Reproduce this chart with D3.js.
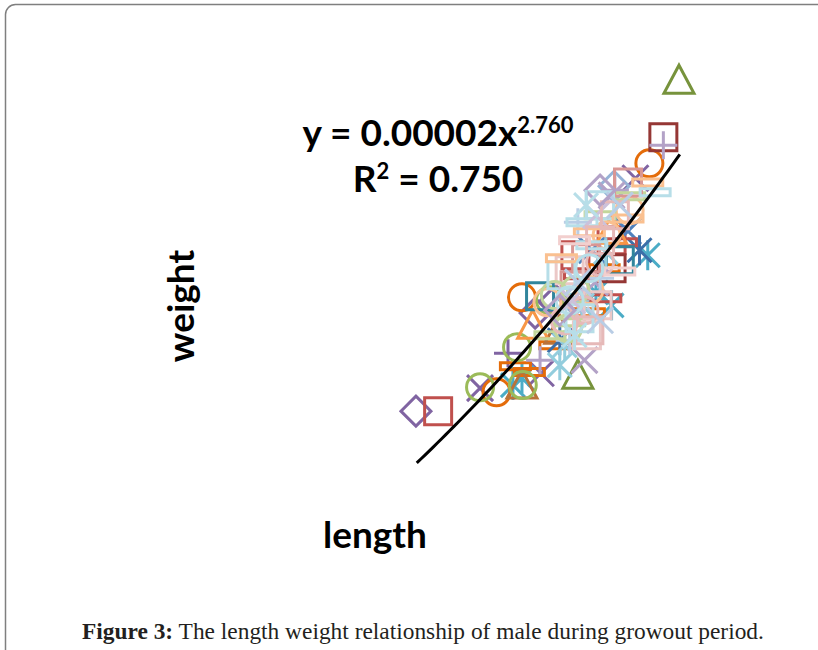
<!DOCTYPE html>
<html lang="en">
<head>
<meta charset="UTF-8">
<title>Length weight relationship</title>
<script src="https://d3js.org/d3.v7.min.js"></script>
<style>
  html, body { margin: 0; padding: 0; background: #fff; }
  svg { display: block; }
  .label { font-family: Lato, "Open Sans", sans-serif; font-weight: bold; font-size: 37px; fill: #000; }
  .equation { font-family: Lato, "Open Sans", sans-serif; font-weight: bold; font-size: 37px; fill: #000; }
  .caption { font-family: "Liberation Serif", serif; font-size: 23.4px; fill: #231f20; }
</style>
</head>
<body>
<script>
'use strict'

// power fit shown on the chart
const fitA = 0.00002
const fitB = 2.760
const fitR2 = '0.750'
const fitLengths = [128, 160]

// sample groups, [length, weight]
const s01 = [[127.9, 14.96], [142.4, 18.50], [144.9, 18.96]]
const s02 = [[130.6, 14.96], [147.3, 20.59], [151.7, 21.13]]
const s03 = [[159.9, 26.91], [147.6, 16.26]]
const s04 = [[135.7, 15.79], [143.1, 16.33], [154.6, 23.37]]
const s05 = [[139.7, 15.90], [140.8, 16.15], [151.7, 18.78], [156.1, 20.59], [149.8, 19.25]]
const s06 = [[156.3, 23.91], [140.8, 19.07], [137.7, 15.64]]
const s07 = [[139.1, 17.05], [148.1, 18.96]]
const s08 = [[140.0, 16.58], [141.7, 16.37], [149.0, 18.53], [150.8, 20.12], [144.8, 17.34]]
const s09 = [[152.0, 23.08], [147.2, 18.96]]
const s10 = [[158.0, 24.85], [151.7, 20.12]]
const s11 = [[140.8, 15.90], [145.4, 17.88]]
const s12 = [[153.7, 21.46], [149.3, 20.77]]
const s13 = [[155.1, 20.77], [145.4, 17.52]]
const s14 = [[135.7, 15.82], [140.9, 15.90], [140.2, 17.27], [144.2, 18.96]]
const s15 = [[158.0, 24.56], [152.1, 22.94], [143.0, 16.80]]
const s16 = [[151.0, 19.04], [152.9, 21.06], [147.8, 19.87]]
const s17 = [[142.1, 18.06], [151.7, 21.49]]
const s18 = [[143.0, 19.11], [152.7, 20.41]]
const s19 = [[151.7, 22.75], [148.4, 16.80], [149.7, 19.61]]
const s20 = [[145.4, 16.62], [148.1, 18.78], [151.0, 20.70], [146.0, 17.34]]
const s21 = [[151.1, 21.31], [143.9, 18.89], [149.0, 19.33], [153.9, 22.21]]
const s22 = [[150.3, 19.76], [147.6, 21.78], [146.6, 17.52]]
const s23 = [[150.3, 22.03], [153.9, 22.72], [146.6, 18.17], [144.2, 17.70]]
const s24 = [[153.7, 23.22], [148.6, 20.48], [147.2, 19.51]]
const s25 = [[148.7, 17.70], [146.6, 20.05], [150.0, 18.78]]
const s26 = [[144.8, 19.15], [146.4, 17.95], [147.3, 19.33]]
const s27 = [[146.0, 18.24], [150.3, 20.34], [148.4, 18.60]]
const s28 = [[147.8, 18.31], [150.3, 22.39], [145.6, 19.87]]
const s29 = [[153.7, 21.92], [156.1, 23.22], [145.6, 20.48], [149.0, 21.42]]
const s30 = [[157.0, 22.86], [148.1, 21.78], [149.3, 20.95]]
const s31 = [[149.8, 22.03], [146.9, 18.96]]
const s32 = [[150.3, 21.13], [152.1, 22.03], [149.0, 17.88]]
const s33 = [[147.6, 19.61], [152.7, 22.39], [150.3, 18.24]]
const s34 = [[147.2, 21.13], [152.7, 20.00]]
const s35 = [[149.0, 20.12], [146.6, 18.96]]
const s36 = [[150.3, 22.94], [145.4, 18.60]]
const s37 = [[147.2, 17.70], [148.6, 22.40]]

const groups = [s01, s02, s03, s04, s05, s06, s07, s08, s09, s10, s11, s12, s13, s14, s15, s16,
                s17, s18, s19, s20, s21, s22, s23, s24, s25, s26, s27, s28, s29, s30, s31,
                s32, s33, s34, s35, s36, s37]

// marker style per group
const groupShapes = ['diamond', 'square', 'triangle', 'x', 'star', 'circle', 'plus', 'dash',
                     'diamond', 'square', 'triangle', 'x', 'star', 'circle', 'plus', 'dash',
                     'triangle', 'square', 'x', 'star', 'circle', 'plus', 'dash', 'square',
                     'square', 'circle', 'circle', 'square', 'dash', 'dash', 'x',
                     'square', 'x', 'dash', 'circle', 'diamond', 'star']
const groupColors = ['#8064A2', '#C0504D', '#77933C', '#8064A2', '#4BACC6', '#E46C0A', '#8064A2', '#E46C0A',
                     '#95B3D7', '#953735', '#B9733A', '#4F81BD', '#3C6EA8', '#9BBB59', '#B3A2C7', '#C0504D',
                     '#F79646', '#31859C', '#B3A2C7', '#93CDDD', '#FAC090', '#B9CDE5', '#C3D69B', '#D99694',
                     '#EBC8C7', '#C3D69B', '#E6B9B8', '#B7DEE8', '#FAC090', '#B7DEE8', '#CCC1DA',
                     '#E6B9B8', '#B9CDE5', '#F2CFCE', '#B7DEE8', '#B3A2C7', '#B7DEE8']

const W = 818, H = 650
const margin = {top: 50, left: 351}
const w = 411, h = 498.5

const svg = d3.select('body').append('svg')
    .attr('width', W)
    .attr('height', H)

// frame
svg.append('rect')
    .attr('x', 5.5)
    .attr('y', 4.5)
    .attr('width', 840)
    .attr('height', 700)
    .attr('rx', 10)
    .attr('fill', 'none')
    .attr('stroke', '#7f7f7f')
    .attr('stroke-width', 1.5)

const x = d3.scaleLinear().domain([120, 170]).range([margin.left, margin.left + w])
const y = d3.scaleLinear().domain([10, 28]).range([margin.top + h, margin.top])

function marker(shape) {
    const p = d3.path()
    if (shape === 'square') {
        p.rect(-13.5, -13.5, 27, 27)
    } else if (shape === 'diamond') {
        p.moveTo(0, -15); p.lineTo(15, 0); p.lineTo(0, 15); p.lineTo(-15, 0); p.closePath()
    } else if (shape === 'triangle') {
        p.moveTo(0, -15); p.lineTo(15, 13); p.lineTo(-15, 13); p.closePath()
    } else if (shape === 'circle') {
        p.moveTo(13.5, 0); p.arc(0, 0, 13.5, 0, 2 * Math.PI)
    } else if (shape === 'x') {
        p.moveTo(-13, -13); p.lineTo(13, 13); p.moveTo(13, -13); p.lineTo(-13, 13)
    } else if (shape === 'star') {
        p.moveTo(-12, -12); p.lineTo(12, 12); p.moveTo(12, -12); p.lineTo(-12, 12)
        p.moveTo(0, -15); p.lineTo(0, 15)
    } else if (shape === 'plus') {
        p.moveTo(-14, 0); p.lineTo(14, 0); p.moveTo(0, -14); p.lineTo(0, 14)
    } else if (shape === 'dash') {
        p.rect(-15, -3.5, 30, 7)
    }
    return p.toString()
}

const points = svg.append('g')

groups.forEach((g, i) => {
    points.append('g')
        .selectAll('path')
        .data(g)
        .join('path')
        .attr('d', marker(groupShapes[i]))
        .attr('transform', d => `translate(${x(d[0])},${y(d[1])})`)
        .attr('fill', 'none')
        .attr('stroke', groupColors[i])
        .attr('stroke-width', 3)
})

// trendline
const fitData = d3.range(fitLengths[0], fitLengths[1] + 0.01, 0.5).map(l => [l, fitA * Math.pow(l, fitB)])
svg.append('path')
    .datum(fitData)
    .attr('d', d3.line().x(d => x(d[0])).y(d => y(d[1])))
    .attr('fill', 'none')
    .attr('stroke', '#000')
    .attr('stroke-width', 3)

// equation
const eq1 = svg.append('text')
    .attr('class', 'equation')
    .attr('x', 438)
    .attr('y', 146)
    .attr('text-anchor', 'middle')
eq1.append('tspan').text('y = ' + fitA.toFixed(5) + 'x')
eq1.append('tspan').text(fitB.toFixed(3)).attr('font-size', 22).attr('dy', -13)

const eq2 = svg.append('text')
    .attr('class', 'equation')
    .attr('x', 438)
    .attr('y', 192)
    .attr('text-anchor', 'middle')
eq2.append('tspan').text('R')
eq2.append('tspan').text('2').attr('font-size', 22).attr('dy', -13)
eq2.append('tspan').text(' = ' + fitR2).attr('dy', 13)

// axis titles
svg.append('text')
    .attr('class', 'label')
    .attr('transform', 'translate(194,306) rotate(-90)')
    .attr('text-anchor', 'middle')
    .text('weight')

svg.append('text')
    .attr('class', 'label')
    .attr('x', 375)
    .attr('y', 548)
    .attr('text-anchor', 'middle')
    .text('length')

// caption
const cap = svg.append('text')
    .attr('class', 'caption')
    .attr('x', 82)
    .attr('y', 639)
cap.append('tspan').text('Figure 3:').attr('font-weight', 'bold')
cap.append('tspan').text(' The length weight relationship of male during growout period.')
</script>
</body>
</html>
